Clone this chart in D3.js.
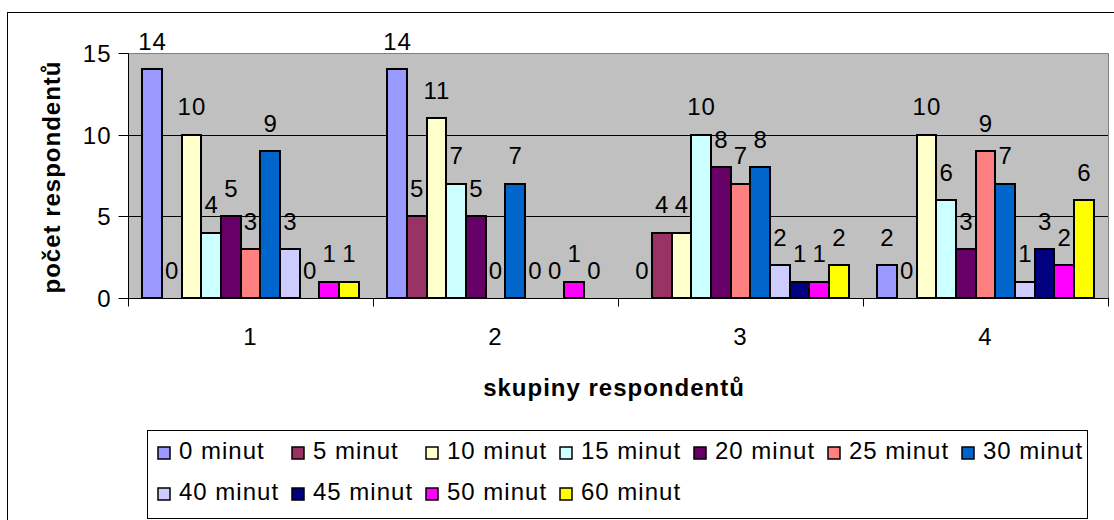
<!DOCTYPE html>
<html>
<head>
<meta charset="utf-8">
<script src="https://cdn.jsdelivr.net/npm/d3@7"></script>
<style>
  html, body { margin: 0; padding: 0; background: #fff; }
  svg { display: block; }
  text { font-family: "Liberation Sans", Arial, sans-serif; fill: #000; }
</style>
</head>
<body>
<svg id="chart" width="1114" height="520"></svg>
<script>
// Respondent groups on the x axis
const groups = ["1", "2", "3", "4"];

// Series (time in minutes) with their fill colours
const seriesNames = ["0 minut", "5 minut", "10 minut", "15 minut", "20 minut", "25 minut",
                     "30 minut", "40 minut", "45 minut", "50 minut", "60 minut"];
const seriesColors = ["#9999FF", "#993366", "#FFFFCC", "#CCFFFF", "#660066", "#FF8080",
                      "#0066CC", "#CCCCFF", "#000080", "#FF00FF", "#FFFF00"];

// Number of respondents per series, one value per group
const min0  = [14, 14, 0, 2];
const min5  = [0, 5, 4, 0];
const min10 = [10, 11, 4, 10];
const min15 = [4, 7, 10, 6];
const min20 = [5, 5, 8, 3];
const min25 = [3, 0, 7, 9];
const min30 = [9, 7, 8, 7];
const min40 = [3, 0, 2, 1];
const min45 = [0, 0, 1, 3];
const min50 = [1, 1, 1, 2];
const min60 = [1, 0, 2, 6];
const seriesValues = [min0, min5, min10, min15, min20, min25, min30, min40, min45, min50, min60];

const yTicks = [0, 5, 10, 15];
const yTitle = "počet respondentů";
const xTitle = "skupiny respondentů";

const svg = d3.select("#chart");
const plot = { left: 128, right: 1108, top: 53, bottom: 298 };
const FS = 24;
const LS = "1px";

// chart area frame
svg.append("rect")
  .attr("x", 7.5).attr("y", 12.5).attr("width", 1200).attr("height", 600)
  .attr("fill", "#fff").attr("stroke", "#000").attr("stroke-width", 1);

const x0 = d3.scaleBand().domain(groups).range([plot.left, plot.right]).paddingInner(0).paddingOuter(0);
const x1 = d3.scaleBand().domain(d3.range(seriesNames.length)).range([0, x0.bandwidth()])
  .paddingInner(0).paddingOuter(0.72);
const y = d3.scaleLinear().domain([0, 15]).range([plot.bottom, plot.top]);

const px = v => Math.round(v) + 0.5;

// plot background
svg.append("rect")
  .attr("x", plot.left).attr("y", plot.top)
  .attr("width", plot.right - plot.left).attr("height", plot.bottom - plot.top)
  .attr("fill", "#C0C0C0");

// gridlines
svg.append("g").selectAll("line").data(yTicks.filter(t => t > 0 && t < 15)).join("line")
  .attr("x1", plot.left).attr("x2", plot.right)
  .attr("y1", d => px(y(d))).attr("y2", d => px(y(d)))
  .attr("stroke", "#000").attr("stroke-width", 1);

// plot border (top and right in grey)
svg.append("path")
  .attr("d", `M${plot.left},${px(y(15))}H${px(plot.right)}V${plot.bottom}`)
  .attr("fill", "none").attr("stroke", "#808080").attr("stroke-width", 1);

// bars
const barData = [];
seriesValues.forEach((vals, si) => {
  vals.forEach((v, gi) => barData.push({ si, g: groups[gi], v }));
});

const barG = svg.append("g");
barG.selectAll("rect").data(barData.filter(d => d.v > 0)).join("rect")
  .attr("x", d => Math.round(x0(d.g) + x1(d.si)))
  .attr("y", d => Math.round(y(d.v)))
  .attr("width", d => Math.round(x0(d.g) + x1(d.si) + x1.bandwidth()) - Math.round(x0(d.g) + x1(d.si)))
  .attr("height", d => Math.round(y(0)) - Math.round(y(d.v)))
  .attr("fill", d => seriesColors[d.si])
  .attr("stroke", "#000").attr("stroke-width", 2);

// axes
const yAxis = d3.axisLeft(y).tickValues(yTicks).tickSize(10).tickPadding(8).tickFormat(d3.format("d"));
const gy = svg.append("g").attr("transform", `translate(${px(plot.left)},0)`).call(yAxis);
gy.select(".domain").attr("stroke", "#000").attr("d", `M0,${px(y(15))}V${px(y(0))}`);
gy.selectAll(".tick line").attr("stroke", "#000");
gy.selectAll(".tick").attr("transform", d => `translate(0,${px(y(d))})`);
gy.selectAll(".tick text")
  .attr("font-size", FS).attr("letter-spacing", LS)
  .attr("font-family", "Liberation Sans, Arial, sans-serif").attr("fill", "#000")
  .attr("x", -17).attr("dy", "0.36em");

const xAxis = d3.axisBottom(x0).tickSize(0).tickPadding(0);
const gx = svg.append("g").attr("transform", `translate(0,${px(plot.bottom)})`).call(xAxis);
gx.select(".domain").attr("stroke", "#000").attr("d", `M${plot.left},0H${plot.right + 1}`);
gx.selectAll(".tick text")
  .attr("font-size", FS).attr("letter-spacing", LS)
  .attr("font-family", "Liberation Sans, Arial, sans-serif").attr("fill", "#000")
  .attr("y", 46).attr("dy", 0);

// category boundary ticks
const bounds = groups.map(g => x0(g)).concat([plot.right]);
gx.append("g").selectAll("line").data(bounds).join("line")
  .attr("x1", d => px(d)).attr("x2", d => px(d))
  .attr("y1", 0).attr("y2", 8)
  .attr("stroke", "#000");

// value labels
svg.append("g").selectAll("text").data(barData).join("text")
  .attr("x", d => x0(d.g) + x1(d.si) + x1.bandwidth() / 2 + 0.5)
  .attr("y", d => y(d.v) - 19.5)
  .attr("text-anchor", "middle")
  .attr("font-size", FS).attr("letter-spacing", LS)
  .text(d => d.v);

// axis titles
svg.append("text")
  .attr("transform", `translate(60,177) rotate(-90)`)
  .attr("text-anchor", "middle")
  .attr("font-size", FS).attr("font-weight", "bold").attr("letter-spacing", LS)
  .text(yTitle);

svg.append("text")
  .attr("x", 614).attr("y", 396)
  .attr("text-anchor", "middle")
  .attr("font-size", FS).attr("font-weight", "bold").attr("letter-spacing", LS)
  .text(xTitle);

// legend
const legend = svg.append("g");
legend.append("rect")
  .attr("x", 147.5).attr("y", 430.5).attr("width", 940).attr("height", 88)
  .attr("fill", "#fff").attr("stroke", "#000").attr("stroke-width", 1);

const perRow = 7;
const colW = 134;
const items = legend.selectAll("g.item").data(seriesNames).join("g")
  .attr("class", "item")
  .attr("transform", (d, i) => `translate(${157 + (i % perRow) * colW},${459 + Math.floor(i / perRow) * 41})`);
items.append("rect")
  .attr("x", 1).attr("y", -12).attr("width", 12).attr("height", 12)
  .attr("fill", (d, i) => seriesColors[i]).attr("stroke", "#000").attr("stroke-width", 1.5);
items.append("text")
  .attr("x", 22).attr("y", 0)
  .attr("font-size", FS).attr("letter-spacing", LS)
  .text(d => d);
</script>
</body>
</html>
